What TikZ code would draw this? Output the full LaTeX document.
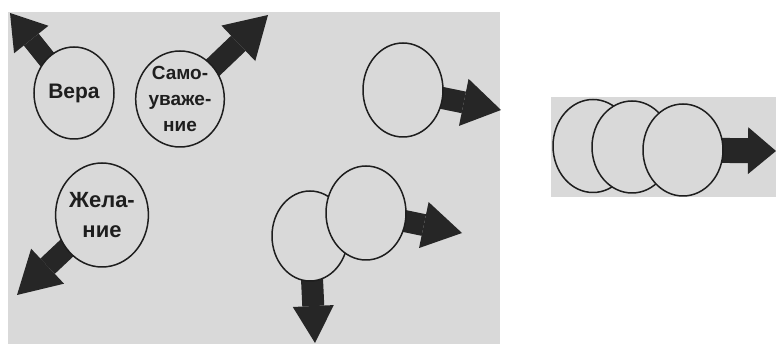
\documentclass[tikz,border=0pt]{standalone}
\usepackage{fontspec}
\setmainfont{Liberation Sans}
\usetikzlibrary{shapes.geometric,arrows.meta,backgrounds}
\definecolor{paper}{HTML}{D9D9D9}
\definecolor{ink}{HTML}{1E1E1E}
\definecolor{arr}{HTML}{262626}
\begin{document}
\begin{tikzpicture}[x=1pt,y=-1pt,
  blob/.style={ellipse, draw=ink, line width=1.5pt, fill=paper, inner sep=0pt,
    align=center, text=ink, font=\bfseries\fontsize{19}{26}\selectfont},
  fat/.style n args={3}{draw=arr, line width=#1,
    -{Triangle[length=#2,width=#3,line width=0pt]}}]
\useasboundingbox (0,0) rectangle (776,344);
% circles
\node[blob, minimum width=80pt, minimum height=92pt, font=\bfseries\fontsize{21}{24}\selectfont] (vera) at (74,93) {Вера};
\node[blob, minimum width=82pt, minimum height=96pt] (samo) at (180,99) {Само-\\уваже-\\ние};
\node[blob, minimum width=80pt, minimum height=94pt] (c3) at (403,90) {};
\node[blob, minimum width=89pt, minimum height=104pt, font=\bfseries\fontsize{22}{30}\selectfont] (zhel) at (102,215) {Жела-\\ние};
\node[blob, minimum width=76pt, minimum height=90pt] (pL) at (310,236) {};
\node[blob, minimum width=80pt, minimum height=94pt] (pR) at (366,213) {};
\node[blob, minimum width=80pt, minimum height=93pt] (r1) at (593,146) {};
\node[blob, minimum width=80pt, minimum height=92pt] (r2) at (632,147) {};
\node[blob, minimum width=80pt, minimum height=92pt] (r3) at (683,150) {};
% arrow tips
\coordinate (t1) at (10,13);
\coordinate (t2) at (268,15);
\coordinate (t3) at (501,110);
\coordinate (t4) at (17,295);
\coordinate (t5) at (462,233);
\coordinate (t6) at (315,343);
\coordinate (t7) at (776,151);
\begin{scope}[on background layer]
\fill[paper] (8,12) rectangle (500,344);
\fill[paper] (551,97) rectangle (776,197);
\draw[fat={19pt}{34pt}{44pt}] (vera.center) -- (t1);
\draw[fat={21pt}{41pt}{49pt}] (samo.center) -- (t2);
\draw[fat={22pt}{38pt}{48pt}] (c3.center) -- (t3);
\draw[fat={21pt}{42pt}{48pt}] (zhel.center) -- (t4);
\draw[fat={22pt}{39pt}{47pt}] (pR.center) -- (t5);
\draw[fat={22pt}{37pt}{41pt}] (pL.center) -- (t6);
\draw[fat={25pt}{28pt}{47pt}] (r3.center) -- (t7);
\end{scope}
\end{tikzpicture}
\end{document}
